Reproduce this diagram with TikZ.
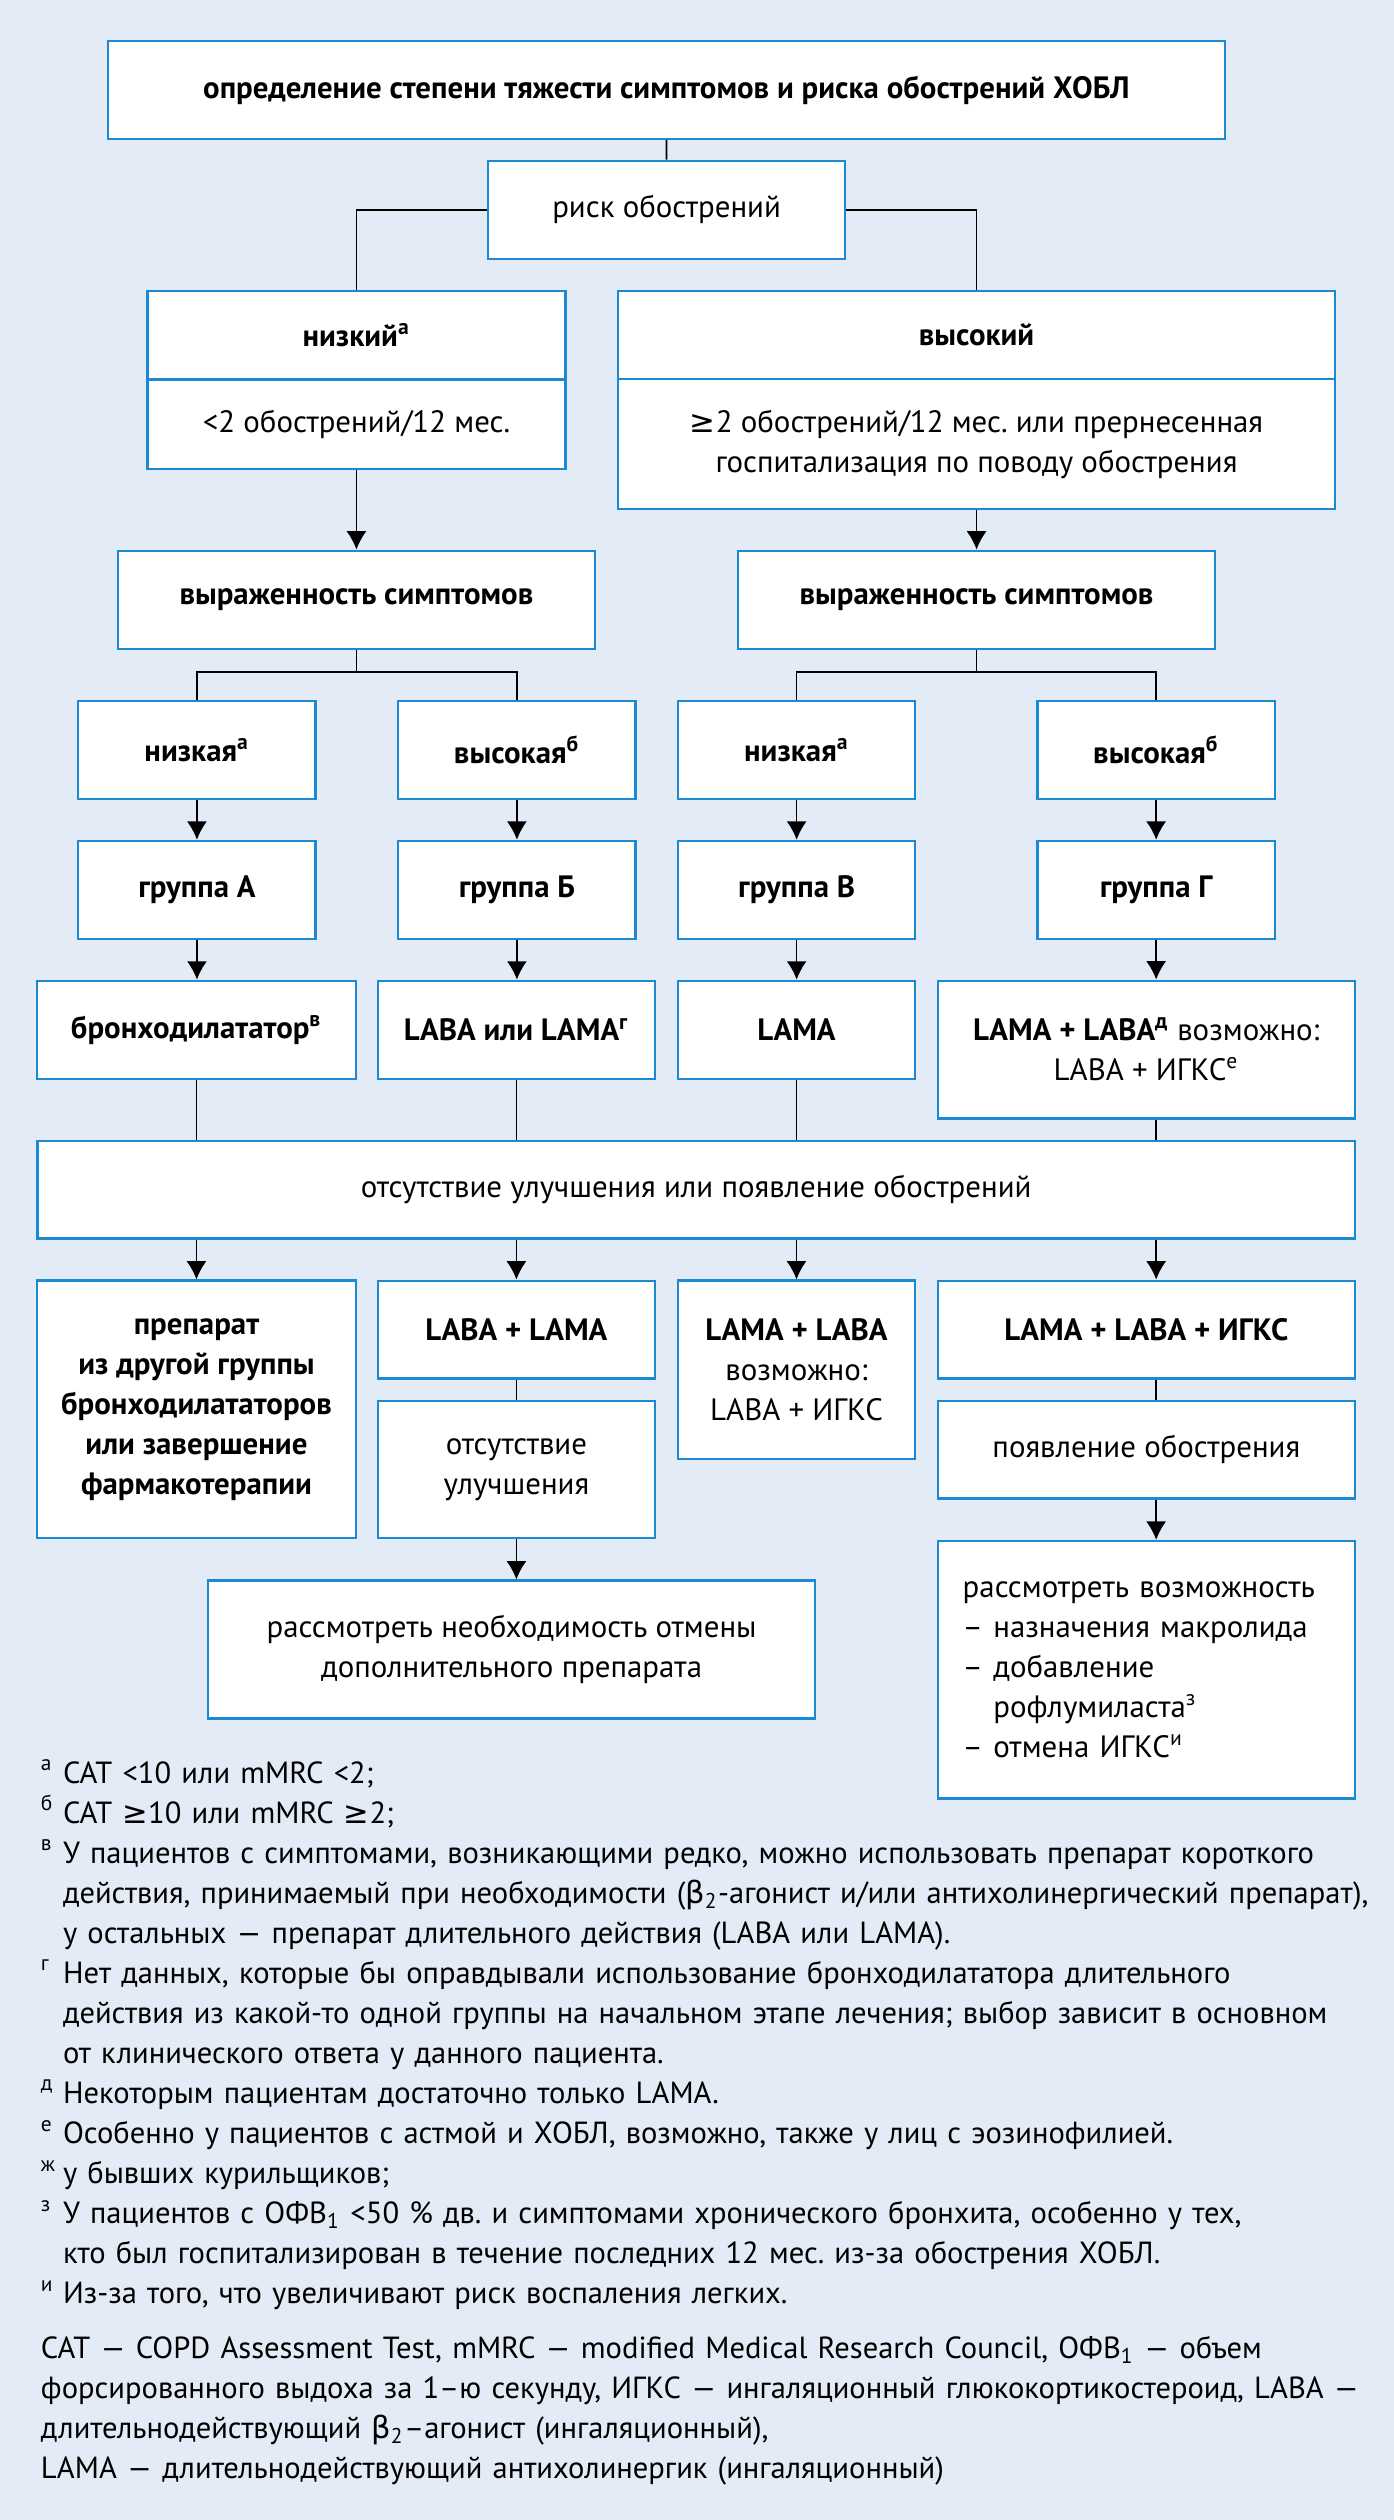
\documentclass[tikz,border=0pt]{standalone}
\usepackage{fontspec}
\setmainfont{PT Sans}
\newfontfamily\zeichen{DejaVu Sans}
\usetikzlibrary{calc,arrows.meta,positioning}
\definecolor{hintergrund}{HTML}{E3EBF6}
\definecolor{rahmen}{HTML}{1B8AD3}
\frenchspacing
\newcommand{\hoch}[1]{\textsuperscript{#1}}
\newcommand{\marke}[1]{\makebox[6.9pt][l]{\hoch{#1}}}
\newcommand{\weiter}{\hspace*{6.9pt}}
\tikzset{
	node distance=43.5pt,
	>={Latex[length=5.7pt,width=6.2pt]},
	punkt/.style={
		rectangle,
		draw=rahmen,
		line width=0.7pt,
		fill=white,
		align=center,
		inner sep=2pt,
		font=\fontsize{9.6}{12.45}\selectfont
	},
	fett/.style={punkt, font=\fontsize{9.6}{12.45}\selectfont\bfseries},
	klein/.style={minimum width=73.8pt, minimum height=30.5pt},
	fussnote/.style={anchor=base west, align=left, inner sep=0pt, font=\fontsize{9.5}{12.45}\selectfont}
}

\begin{document}
\begin{tikzpicture}[line width=0.5pt]
	\fill[hintergrund] (0,0) rectangle (433.5pt,-783.7pt);
	\useasboundingbox (0,0) rectangle (433.5pt,-783.7pt);

	\node[fett, minimum width=347.5pt, minimum height=30.5pt] (bestimmung) at (207.25pt,-28pt) {определение степени тяжести симптомов и риска обострений ХОБЛ};
	\node[punkt, minimum width=111pt, minimum height=30.5pt] (risiko) at (207.3pt,-65.25pt) {риск обострений};

	\node[fett, minimum width=130pt, minimum height=27.5pt] (niedrig) at (110.85pt,-104.25pt) {низкий\hoch{а}};
	\node[punkt, minimum width=130pt, minimum height=27.8pt] (niedrig-krit) at (110.85pt,-131.9pt) {<2 обострений/12 мес.};
	\node[fett, minimum width=223.1pt, minimum height=27.5pt] (hoch) at (303.7pt,-104.25pt) {высокий};
	\node[punkt, minimum width=223.1pt, minimum height=40.25pt] (hoch-krit) at (303.7pt,-138.1pt) {{\zeichen ≥}2 обострений/12 мес. или прернесенная\\госпитализация по поводу обострения};

	\node[fett, minimum width=148.2pt, minimum height=30.5pt] (symptome-links) at (110.85pt,-186.5pt) {выраженность симптомов};
	\node[fett, minimum width=148.5pt, minimum height=30.5pt] (symptome-rechts) at (303.7pt,-186.5pt) {выраженность симптомов};

	\node[fett, klein] (niedrig-a) at (61.25pt,-233.25pt) {низкая\hoch{а}};
	\node[fett, klein] (hoch-b) at (160.75pt,-233.25pt) {высокая\hoch{б}};
	\node[fett, klein] (niedrig-c) at (247.75pt,-233.25pt) {низкая\hoch{а}};
	\node[fett, klein] (hoch-d) at (359.55pt,-233.25pt) {высокая\hoch{б}};

	\node[fett, klein, below of=niedrig-a] (gruppe-a) {группа А};
	\node[fett, klein, below of=hoch-b] (gruppe-b) {группа Б};
	\node[fett, klein, below of=niedrig-c] (gruppe-c) {группа В};
	\node[fett, klein, below of=hoch-d] (gruppe-d) {группа Г};

	\node[fett, minimum width=99pt, minimum height=30.5pt] (bronchodilatator) at (61.1pt,-320.25pt) {бронходилататор\hoch{в}};
	\node[fett, minimum width=86.25pt, minimum height=30.5pt] (laba-lama) at (160.6pt,-320.25pt) {LABA или LAMA\hoch{г}};
	\node[fett, klein] (lama) at (247.7pt,-320.25pt) {LAMA};
	\node[punkt, minimum width=129.7pt, minimum height=42.85pt] (lama-laba) at (356.5pt,-326.4pt) {\textbf{LAMA + LABA\hoch{д}} возможно:\\LABA + ИГКС\hoch{е}};

	\node[punkt, minimum width=409.75pt, minimum height=30.35pt] (keine-besserung) at (216.5pt,-370pt) {отсутствие улучшения или появление обострений};

	\node[fett, minimum width=99pt, minimum height=80.1pt] (anderes-praeparat) at (61.1pt,-438.3pt) {препарат\\из другой группы\\бронходилататоров\\или завершение\\фармакотерапии};
	\node[fett, minimum width=86.25pt, minimum height=30.45pt] (laba-plus-lama) at (160.6pt,-413.5pt) {LABA + LAMA};
	\node[punkt, minimum width=86.25pt, minimum height=42.75pt] (ohne-besserung) at (160.6pt,-457pt) {отсутствие\\улучшения};
	\node[punkt, minimum width=188.8pt, minimum height=42.9pt] (absetzen) at (159.1pt,-513pt) {рассмотреть необходимость отмены\\дополнительного препарата};
	\node[punkt, minimum width=73.55pt, minimum height=55.4pt] (lama-plus-laba) at (247.7pt,-425.95pt) {\textbf{LAMA + LABA}\\возможно:\\LABA + ИГКС};
	\node[fett, minimum width=129.7pt, minimum height=30.45pt] (triple) at (356.5pt,-413.5pt) {LAMA + LABA + ИГКС};
	\node[punkt, minimum width=129.7pt, minimum height=30.4pt] (exazerbation) at (356.5pt,-450.8pt) {появление обострения};
	\node[punkt, minimum width=129.7pt, minimum height=80.1pt, align=left, text width=114.2pt] (moeglichkeit) at (356.5pt,-519.25pt) {рассмотреть возможность\\– назначения макролида\\– добавление\\\phantom{– }рофлумиласта\hoch{з}\\– отмена ИГКС\hoch{и}};

	\draw (bestimmung) -- (risiko);
	\draw (risiko.west) -| (niedrig.north);
	\draw (risiko.east) -| (hoch.north);
	\draw[->] (niedrig-krit) -- (symptome-links);
	\draw[->] (hoch-krit) -- (symptome-rechts);

	\coordinate[below=6.8pt of symptome-links.south] (verzweigung-links);
	\coordinate[below=6.8pt of symptome-rechts.south] (verzweigung-rechts);
	\draw (symptome-links) -- (verzweigung-links);
	\draw (niedrig-a.north) |- (verzweigung-links) -| (hoch-b.north);
	\draw (symptome-rechts) -- (verzweigung-rechts);
	\draw (niedrig-c.north) |- (verzweigung-rechts) -| (hoch-d.north);

	\draw[->] (niedrig-a) -- (gruppe-a);
	\draw[->] (hoch-b) -- (gruppe-b);
	\draw[->] (niedrig-c) -- (gruppe-c);
	\draw[->] (hoch-d) -- (gruppe-d);
	\draw[->] (gruppe-a) -- (gruppe-a |- bronchodilatator.north);
	\draw[->] (gruppe-b) -- (gruppe-b |- laba-lama.north);
	\draw[->] (gruppe-c) -- (gruppe-c |- lama.north);
	\draw[->] (gruppe-d) -- (gruppe-d |- lama-laba.north);

	\draw (bronchodilatator) -- (bronchodilatator |- keine-besserung.north);
	\draw (laba-lama) -- (laba-lama |- keine-besserung.north);
	\draw (lama) -- (lama |- keine-besserung.north);
	\draw (gruppe-d |- lama-laba.south) -- (gruppe-d |- keine-besserung.north);

	\draw[->] (bronchodilatator |- keine-besserung.south) -- (anderes-praeparat);
	\draw[->] (laba-lama |- keine-besserung.south) -- (laba-plus-lama);
	\draw[->] (lama |- keine-besserung.south) -- (lama-plus-laba);
	\draw[->] (gruppe-d |- keine-besserung.south) -- (gruppe-d |- triple.north);

	\draw (laba-plus-lama) -- (ohne-besserung);
	\draw[->] (ohne-besserung) -- (ohne-besserung |- absetzen.north);
	\draw (gruppe-d |- triple.south) -- (gruppe-d |- exazerbation.north);
	\draw[->] (gruppe-d |- exazerbation.south) -- (gruppe-d |- moeglichkeit.north);

	% Fussnoten
	\node[fussnote, text width=418pt] (fussnoten) at (12.45pt,-554.5pt) {%
\marke{а}CAT <10 или mMRC <2;\\
\marke{б}CAT {\zeichen ≥}10 или mMRC {\zeichen ≥}2;\\
\marke{в}У пациентов с симптомами, возникающими редко, можно использовать препарат короткого\\
\weiter действия, принимаемый при необходимости ({\zeichen β}\textsubscript{2}-агонист и/или антихолинергический препарат),\\
\weiter у остальных — препарат длительного действия (LABA или LAMA).\\
\marke{г}Нет данных, которые бы оправдывали использование бронходилататора длительного\\
\weiter действия из какой-то одной группы на начальном этапе лечения; выбор зависит в основном\\
\weiter от клинического ответа у данного пациента.\\
\marke{д}Некоторым пациентам достаточно только LAMA.\\
\marke{е}Особенно у пациентов с астмой и ХОБЛ, возможно, также у лиц с эозинофилией.\\
\marke{ж}у бывших курильщиков;\\
\marke{з}У пациентов с ОФВ\textsubscript{1} <50~\% дв. и симптомами хронического бронхита, особенно у тех,\\
\weiter кто был госпитализирован в течение последних 12 мес. из-за обострения ХОБЛ.\\
\marke{и}Из-за того, что увеличивают риск воспаления легких.};

	\node[fussnote, text width=418pt] (abkuerzungen) at (12.5pt,-733.35pt) {%
CAT — COPD Assessment Test, mMRC — modified Medical Research Council, ОФВ\textsubscript{1} — объем\\
форсированного выдоха за 1–ю секунду, ИГКС — ингаляционный глюкокортикостероид, LABA —\\
длительнодействующий {\zeichen β}\textsubscript{2}–агонист (ингаляционный),\\
LAMA — длительнодействующий антихолинергик (ингаляционный)};
\end{tikzpicture}
\end{document}
